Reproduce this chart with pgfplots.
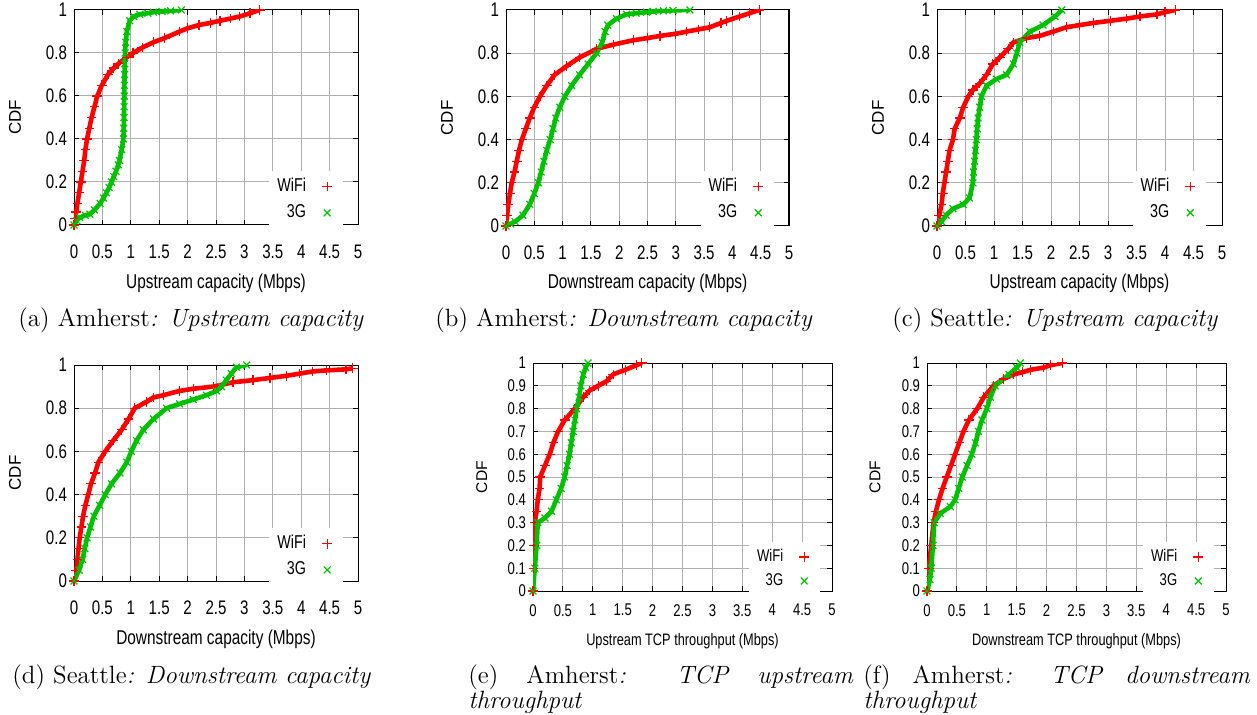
\documentclass[border=0pt]{standalone}
\usepackage{fontspec}
\usepackage{pgfplots}
\pgfplotsset{compat=1.18}
\newfontfamily\hv[FakeStretch=0.77]{Liberation Sans}
\newfontfamily\hvn{Liberation Sans}
\definecolor{gpred}{RGB}{255,0,0}
\definecolor{gpgreen}{RGB}{0,192,0}
\definecolor{gpgrid}{RGB}{176,176,176}

\pgfplotsset{
  cdf/.style={
    scale only axis,
    xmin=0, xmax=5, ymin=0, ymax=1,
    xtick={0,0.5,...,5},
    xticklabels={0,0.5,1,1.5,2,2.5,3,3.5,4,4.5,5},
    ytick={0,0.2,...,1},
    yticklabels={0,0.2,0.4,0.6,0.8,1},
    grid=major,
    major grid style={draw=gpgrid, line width=0.5pt},
    axis line style={line width=0.5pt},
    tick align=inside, tick pos=both,
    major tick length=2.5pt,
    tick style={line width=0.5pt, black},
    tick label style={font=\hv\fontsize{9.8}{10}\selectfont},
    /pgf/number format/assume math mode=true,
    xticklabel style={yshift=-6.5pt},
    xlabel style={font=\hv\fontsize{10}{11}\selectfont},
    ylabel style={font=\hvn\fontsize{8.5}{9}\selectfont},
    ylabel={CDF},
    legend plot pos=right,
    legend cell align=right,
    legend style={fill=white, draw=none, anchor=north east,
      font=\hv\fontsize{9.3}{10}\selectfont, row sep=2pt, inner sep=2pt,
      nodes={inner ysep=1.5pt}},
  },
  tcp/.style={
    ytick={0,0.1,...,1},
    yticklabels={0,0.1,0.2,0.3,0.4,0.5,0.6,0.7,0.8,0.9,1},
    tick label style={font=\hv\fontsize{8.5}{9}\selectfont},
    xticklabel style={yshift=3.4pt},
    xlabel style={font=\hv\fontsize{8.3}{9}\selectfont},
    ylabel style={font=\hvn\fontsize{7.8}{9}\selectfont},
    legend style={font=\hv\fontsize{8.5}{9}\selectfont, row sep=1.4pt},
  },
  keymark/.style={legend image code/.code={
    \path[draw=none, fill=none] (0cm,-0.08cm) rectangle (0.5cm,0.08cm);
    \draw[##1] plot coordinates {(0.3cm,0cm)};}},
  wifi/.style={gpred, mark=+, mark size=2.4pt, line width=2.3pt,
    mark options={line width=0.6pt, draw=gpred}},
  threeg/.style={gpgreen, mark=x, mark size=2.4pt, line width=2.3pt,
    mark options={line width=0.6pt, draw=gpgreen}},
}

\begin{document}
\begin{tikzpicture}
\useasboundingbox (0,0) rectangle (628.5pt,-357.5pt);

% (a) Amherst upstream capacity
\begin{axis}[cdf, at={(37pt,-112.5pt)}, anchor=south west, width=142pt, height=107.5pt,
  xlabel={Upstream capacity (Mbps)},
  xlabel style={at={(axis description cs:0.5,-0.27)}, anchor=center},
  ylabel style={at={(axis description cs:-0.208,0.5)}, anchor=center},
  legend style={at={(axis description cs:0.947,0.251)}}]
\addplot[wifi, forget plot] coordinates {
(0,0)(0.02,0.03)(0.04,0.06)(0.06,0.1)(0.09,0.15)(0.12,0.2)(0.15,0.25)(0.18,0.3)
(0.2,0.35)(0.23,0.4)(0.27,0.45)(0.31,0.5)(0.36,0.55)(0.41,0.6)(0.49,0.65)(0.6,0.7)
(0.7,0.73)(0.78,0.75)(0.93,0.78)(1.04,0.8)(1.2,0.825)(1.4,0.85)(1.6,0.87)(1.86,0.9)
(2.0,0.915)(2.2,0.93)(2.4,0.94)(2.57,0.95)(2.75,0.96)(2.92,0.97)(3.1,0.985)(3.27,1.0)};
\addplot[threeg, forget plot] coordinates {
(0,0)(0.05,0.02)(0.1,0.035)(0.2,0.045)(0.28,0.05)(0.36,0.07)(0.46,0.1)(0.52,0.125)
(0.57,0.15)(0.62,0.175)(0.66,0.2)(0.7,0.225)(0.74,0.25)(0.78,0.28)(0.8,0.3)(0.84,0.35)
(0.87,0.4)(0.875,0.45)(0.88,0.5)(0.882,0.55)(0.885,0.6)(0.887,0.65)(0.89,0.7)(0.895,0.75)
(0.9,0.8)(0.91,0.85)(0.93,0.9)(0.98,0.95)(1.05,0.97)(1.16,0.98)(1.3,0.985)(1.4,0.99)
(1.55,0.993)(1.7,0.996)(1.89,1.0)};
\addlegendimage{wifi, only marks, keymark}\addlegendentry{WiFi}
\addlegendimage{threeg, only marks, keymark}\addlegendentry{3G}
\end{axis}

% (b) Amherst downstream capacity
\begin{axis}[cdf, at={(253pt,-113pt)}, anchor=south west, width=141.5pt, height=108pt,
  xlabel={Downstream capacity (Mbps)},
  xlabel style={at={(axis description cs:0.5,-0.264)}, anchor=center},
  ylabel style={at={(axis description cs:-0.208,0.5)}, anchor=center},
  legend style={at={(axis description cs:0.947,0.255)}}]
\addplot[wifi, forget plot] coordinates {
(0,0)(0.02,0.05)(0.04,0.1)(0.07,0.15)(0.1,0.2)(0.15,0.25)(0.19,0.3)(0.23,0.35)
(0.28,0.4)(0.35,0.45)(0.42,0.5)(0.5,0.55)(0.6,0.6)(0.72,0.65)(0.86,0.7)(1.07,0.74)
(1.3,0.78)(1.6,0.82)(1.9,0.84)(2.25,0.86)(2.5,0.87)(2.72,0.88)(3.0,0.89)(3.19,0.9)
(3.4,0.91)(3.6,0.92)(3.8,0.94)(3.9,0.95)(4.13,0.97)(4.3,0.985)(4.48,1.0)};
\addplot[threeg, forget plot] coordinates {
(0,0)(0.08,0.01)(0.16,0.02)(0.3,0.05)(0.42,0.1)(0.5,0.15)(0.57,0.2)(0.62,0.25)
(0.67,0.3)(0.72,0.35)(0.78,0.4)(0.83,0.45)(0.88,0.5)(0.95,0.55)(1.04,0.6)(1.16,0.65)
(1.3,0.7)(1.45,0.75)(1.6,0.8)(1.7,0.85)(1.75,0.9)(1.8,0.93)(1.95,0.96)(2.13,0.98)
(2.3,0.985)(2.48,0.99)(2.6,0.993)(2.78,0.996)(2.95,0.998)(3.25,1.0)};
\addlegendimage{wifi, only marks, keymark}\addlegendentry{WiFi}
\addlegendimage{threeg, only marks, keymark}\addlegendentry{3G}
\end{axis}

% (c) Seattle upstream capacity
\begin{axis}[cdf, at={(468.5pt,-113pt)}, anchor=south west, width=142.5pt, height=108pt,
  xlabel={Upstream capacity (Mbps)},
  xlabel style={at={(axis description cs:0.5,-0.264)}, anchor=center},
  ylabel style={at={(axis description cs:-0.207,0.5)}, anchor=center},
  legend style={at={(axis description cs:0.944,0.255)}}]
\addplot[wifi, forget plot] coordinates {
(0,0)(0.04,0.05)(0.08,0.1)(0.1,0.15)(0.13,0.2)(0.16,0.25)(0.19,0.3)(0.22,0.35)
(0.28,0.4)(0.31,0.45)(0.4,0.5)(0.46,0.55)(0.55,0.6)(0.63,0.63)(0.75,0.66)(0.87,0.7)
(0.98,0.75)(1.1,0.78)(1.25,0.82)(1.34,0.85)(1.57,0.87)(1.8,0.88)(2.04,0.9)(2.27,0.92)
(2.5,0.93)(2.74,0.94)(3.04,0.95)(3.33,0.96)(3.56,0.97)(3.86,0.98)(4.0,0.99)(4.18,1.0)};
\addplot[threeg, forget plot] coordinates {
(0,0)(0.08,0.02)(0.16,0.05)(0.28,0.08)(0.46,0.1)(0.57,0.13)(0.63,0.2)(0.64,0.25)
(0.66,0.3)(0.675,0.35)(0.69,0.4)(0.705,0.45)(0.72,0.5)(0.75,0.55)(0.78,0.6)(0.87,0.65)
(1.04,0.68)(1.22,0.7)(1.34,0.75)(1.4,0.8)(1.45,0.85)(1.63,0.9)(1.86,0.93)(2.07,0.97)(2.19,1.0)};
\addlegendimage{wifi, only marks, keymark}\addlegendentry{WiFi}
\addlegendimage{threeg, only marks, keymark}\addlegendentry{3G}
\end{axis}

% (d) Seattle downstream capacity
\begin{axis}[cdf, at={(37pt,-290.5pt)}, anchor=south west, width=142pt, height=108pt,
  xlabel={Downstream capacity (Mbps)},
  xlabel style={at={(axis description cs:0.5,-0.268)}, anchor=center},
  ylabel style={at={(axis description cs:-0.208,0.5)}, anchor=center},
  legend style={at={(axis description cs:0.947,0.245)}}]
\addplot[wifi, forget plot] coordinates {
(0,0)(0.04,0.05)(0.06,0.1)(0.08,0.15)(0.1,0.2)(0.13,0.25)(0.16,0.3)(0.2,0.35)
(0.25,0.4)(0.3,0.45)(0.37,0.5)(0.43,0.55)(0.55,0.6)(0.69,0.65)(0.84,0.7)(0.96,0.75)
(1.07,0.8)(1.28,0.83)(1.4,0.85)(1.57,0.86)(1.86,0.88)(2.1,0.89)(2.45,0.9)(2.8,0.92)
(3.15,0.93)(3.45,0.94)(3.74,0.95)(3.97,0.96)(4.2,0.97)(4.44,0.975)(4.79,0.98)(4.91,0.985)};
\addplot[threeg, forget plot] coordinates {
(0,0)(0.09,0.05)(0.15,0.1)(0.19,0.15)(0.23,0.2)(0.29,0.25)(0.35,0.3)(0.45,0.35)
(0.55,0.4)(0.66,0.45)(0.81,0.5)(0.93,0.55)(1.01,0.6)(1.1,0.65)(1.22,0.7)(1.4,0.75)
(1.63,0.8)(1.86,0.82)(2.1,0.84)(2.33,0.86)(2.51,0.88)(2.6,0.9)(2.68,0.93)(2.77,0.96)
(2.86,0.99)(3.04,1.0)};
\addlegendimage{wifi, only marks, keymark}\addlegendentry{WiFi}
\addlegendimage{threeg, only marks, keymark}\addlegendentry{3G}
\end{axis}

% (e) Amherst TCP upstream throughput
\begin{axis}[cdf, tcp, at={(266.5pt,-295.5pt)}, anchor=south west, width=149.5pt, height=114pt,
  xlabel={Upstream TCP throughput (Mbps)},
  xlabel style={at={(axis description cs:0.5,-0.219)}, anchor=center},
  ylabel style={at={(axis description cs:-0.171,0.5)}, anchor=center},
  legend style={at={(axis description cs:0.96,0.215)}}]
\addplot[wifi, forget plot] coordinates {
(0,0)(0.01,0.1)(0.02,0.2)(0.03,0.3)(0.06,0.35)(0.08,0.4)(0.11,0.45)(0.12,0.5)
(0.2,0.55)(0.28,0.6)(0.34,0.65)(0.42,0.7)(0.53,0.75)(0.7,0.8)(0.84,0.85)(0.95,0.88)
(1.09,0.9)(1.23,0.92)(1.34,0.95)(1.54,0.97)(1.73,0.99)(1.82,1.0)};
\addplot[threeg, forget plot] coordinates {
(0,0)(0.03,0.1)(0.06,0.2)(0.08,0.3)(0.2,0.32)(0.31,0.35)(0.39,0.4)(0.47,0.45)
(0.53,0.5)(0.57,0.55)(0.61,0.6)(0.64,0.65)(0.67,0.7)(0.7,0.75)(0.73,0.8)(0.77,0.85)
(0.8,0.9)(0.84,0.95)(0.88,0.98)(0.92,1.0)};
\addlegendimage{wifi, only marks, keymark}\addlegendentry{WiFi}
\addlegendimage{threeg, only marks, keymark}\addlegendentry{3G}
\end{axis}

% (f) Amherst TCP downstream throughput
\begin{axis}[cdf, tcp, at={(463.5pt,-295.5pt)}, anchor=south west, width=149.5pt, height=114pt,
  xlabel={Downstream TCP throughput (Mbps)},
  xlabel style={at={(axis description cs:0.5,-0.219)}, anchor=center},
  ylabel style={at={(axis description cs:-0.174,0.5)}, anchor=center},
  legend style={at={(axis description cs:0.96,0.215)}}]
\addplot[wifi, forget plot] coordinates {
(0,0)(0.03,0.1)(0.07,0.2)(0.11,0.3)(0.15,0.35)(0.2,0.4)(0.26,0.45)(0.33,0.5)
(0.4,0.55)(0.47,0.6)(0.54,0.65)(0.61,0.7)(0.7,0.75)(0.84,0.8)(0.95,0.85)(1.11,0.9)
(1.28,0.93)(1.45,0.95)(1.6,0.96)(1.73,0.97)(1.95,0.98)(2.06,0.99)(2.26,1.0)};
\addplot[threeg, forget plot] coordinates {
(0,0)(0.05,0.05)(0.07,0.1)(0.1,0.2)(0.12,0.3)(0.22,0.34)(0.39,0.37)(0.47,0.4)
(0.53,0.45)(0.59,0.5)(0.67,0.55)(0.75,0.6)(0.81,0.65)(0.86,0.7)(0.92,0.75)(1.0,0.8)
(1.06,0.85)(1.14,0.9)(1.37,0.95)(1.5,0.98)(1.56,1.0)};
\addlegendimage{wifi, only marks, keymark}\addlegendentry{WiFi}
\addlegendimage{threeg, only marks, keymark}\addlegendentry{3G}
\end{axis}

% sub-captions
\begin{scope}[every node/.style={inner sep=0pt, anchor=base west, font=\fontsize{12.5}{13}\selectfont}]
\node at (9pt,-163.5pt) {(a) Amherst\textit{: Upstream capacity}};
\node at (217.5pt,-163.5pt) {(b) Amherst\textit{: Downstream capacity}};
\node at (446pt,-163.5pt) {(c) Seattle\textit{: Upstream capacity}};
\node at (6pt,-341.5pt) {(d) Seattle\textit{: Downstream capacity}};
\node at (234pt,-341.5pt) {\makebox[192.5pt][s]{(e) Amherst\textit{:} \textit{TCP} \textit{upstream}}};
\node at (234pt,-354pt) {\textit{throughput}};
\node at (431.5pt,-341.5pt) {\makebox[193.5pt][s]{(f) Amherst\textit{:} \textit{TCP} \textit{downstream}}};
\node at (431.5pt,-354pt) {\textit{throughput}};
\end{scope}
\end{tikzpicture}
\end{document}
